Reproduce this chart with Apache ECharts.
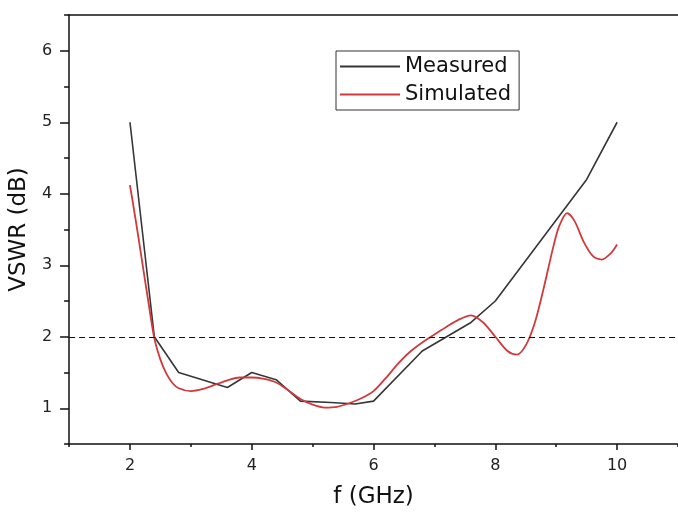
<!DOCTYPE html>
<html>
<head>
<meta charset="utf-8">
<style>
    html, body { margin: 0; padding: 0; background: #fff; }
    #cn { width: 678px; height: 514px; }
</style>
<script src="https://cdn.jsdelivr.net/npm/echarts@6/dist/echarts.min.js"></script>
</head>
<body>
<div id="cn"></div>
<script>
'use strict';

// measured VSWR (polyline)
const measuredF = [2.0, 2.4, 2.8, 3.6, 4.0, 4.4, 4.8, 5.3, 5.7, 6.0, 6.8, 7.6, 8.0, 9.5, 10.0];
const measuredV = [5.0, 2.0, 1.5, 1.29, 1.5, 1.4, 1.1, 1.08, 1.06, 1.1, 1.8, 2.2, 2.5, 4.2, 5.0];

// simulated VSWR (smooth curve)
const simulatedF = [2.0, 2.1, 2.2, 2.3, 2.4, 2.5, 2.6, 2.7, 2.8, 3.0, 3.2, 3.4, 3.6, 3.8, 4.0, 4.2, 4.4, 4.6, 4.8,
    5.0, 5.2, 5.4, 5.6, 5.8, 6.0, 6.2, 6.4, 6.6, 6.8, 7.0, 7.2, 7.4, 7.6, 7.8, 8.0, 8.2, 8.35, 8.5, 8.65, 8.8,
    8.95, 9.05, 9.18, 9.3, 9.45, 9.6, 9.75, 9.9, 10.0];
const simulatedV = [4.12, 3.6, 3.05, 2.5, 1.98, 1.68, 1.48, 1.35, 1.28, 1.24, 1.27, 1.33, 1.39, 1.43, 1.43, 1.41, 1.36, 1.25, 1.13,
    1.05, 1.01, 1.02, 1.07, 1.14, 1.24, 1.42, 1.62, 1.79, 1.92, 2.03, 2.14, 2.24, 2.30, 2.2, 2.0, 1.8, 1.75, 1.88, 2.2, 2.7,
    3.25, 3.55, 3.73, 3.62, 3.33, 3.13, 3.08, 3.17, 3.29];

const xLabels = [2, 4, 6, 8, 10];
const yLabels = [1, 2, 3, 4, 5, 6];
const limitLine = 2;

const FONT = 'DejaVu Sans';

const zip = (a, b) => a.map((v, i) => [v, b[i]]);

const chart = echarts.init(document.getElementById('cn'), null, { renderer: 'canvas' });

let option = {
    animation: false,
    backgroundColor: '#fff',
    grid: {
        left: 68,
        right: 0,
        top: 15,
        bottom: 66
    },
    legend: {
        data: ['Measured', 'Simulated'],
        orient: 'vertical',
        left: 336,
        top: 51,
        itemWidth: 60,
        itemHeight: 12,
        itemGap: 7,
        padding: [5, 8, 5, 3],
        borderColor: '#333',
        borderWidth: 1,
        itemStyle: { opacity: 0 }, // line only, no marker
        textStyle: {
            fontFamily: FONT,
            fontSize: 21,
            color: '#111'
        }
    },
    xAxis: [{
            type: 'value',
            min: 1,
            max: 11,
            interval: 1,
            position: 'bottom',
            name: 'f (GHz)',
            nameLocation: 'middle',
            nameGap: 42,
            nameTextStyle: { fontFamily: FONT, fontSize: 23, color: '#111' },
            axisLine: { show: true, lineStyle: { color: '#111', width: 1.5 } },
            axisTick: { show: true, length: 3, lineStyle: { color: '#111', width: 1.5 } },
            axisLabel: {
                show: true,
                customValues: xLabels,
                margin: 14,
                fontFamily: FONT,
                fontSize: 16,
                color: '#222'
            },
            splitLine: { show: false }
        },
        {
            // longer ticks at labelled values
            type: 'value',
            min: 1,
            max: 11,
            position: 'bottom',
            axisLine: { show: false },
            axisTick: { show: true, customValues: xLabels, length: 6, lineStyle: { color: '#111', width: 1.5 } },
            axisLabel: { show: false },
            splitLine: { show: false }
        },
        {
            // top frame line
            type: 'value',
            min: 1,
            max: 11,
            position: 'top',
            axisLine: { show: true, lineStyle: { color: '#111', width: 1.5 } },
            axisTick: { show: false },
            axisLabel: { show: false },
            splitLine: { show: false }
        }
    ],
    yAxis: [{
            type: 'value',
            min: 0.5,
            max: 6.5,
            interval: 0.5,
            position: 'left',
            name: 'VSWR (dB)',
            nameLocation: 'middle',
            nameGap: 34,
            nameTextStyle: { fontFamily: FONT, fontSize: 23, color: '#111' },
            axisLine: { show: true, lineStyle: { color: '#111', width: 1.5 } },
            axisTick: { show: true, length: 5, lineStyle: { color: '#111', width: 1.5 } },
            axisLabel: {
                customValues: yLabels,
                margin: 17,
                fontFamily: FONT,
                fontSize: 16,
                color: '#222'
            },
            splitLine: { show: false }
        },
        {
            type: 'value',
            min: 0.5,
            max: 6.5,
            position: 'left',
            axisLine: { show: false },
            axisTick: { show: true, customValues: yLabels, length: 9, lineStyle: { color: '#111', width: 1.5 } },
            axisLabel: { show: false },
            splitLine: { show: false }
        }
    ],
    series: [{
            name: 'Measured',
            type: 'line',
            xAxisIndex: 0,
            yAxisIndex: 0,
            data: zip(measuredF, measuredV),
            symbol: 'none',
            showSymbol: false,
            smooth: false,
            lineStyle: { width: 1.6, color: '#363636' },
            itemStyle: { color: '#363636' },
            markLine: {
                silent: true,
                symbol: 'none',
                label: { show: false },
                lineStyle: { type: [6, 4], color: '#111', width: 1.2 },
                data: [{ yAxis: limitLine }]
            }
        },
        {
            name: 'Simulated',
            type: 'line',
            xAxisIndex: 0,
            yAxisIndex: 0,
            data: zip(simulatedF, simulatedV),
            symbol: 'none',
            showSymbol: false,
            smooth: 0.3,
            lineStyle: { width: 1.8, color: '#d03a3c' },
            itemStyle: { color: '#d03a3c' }
        }
    ]
};

chart.setOption(option);
</script>
</body>
</html>
